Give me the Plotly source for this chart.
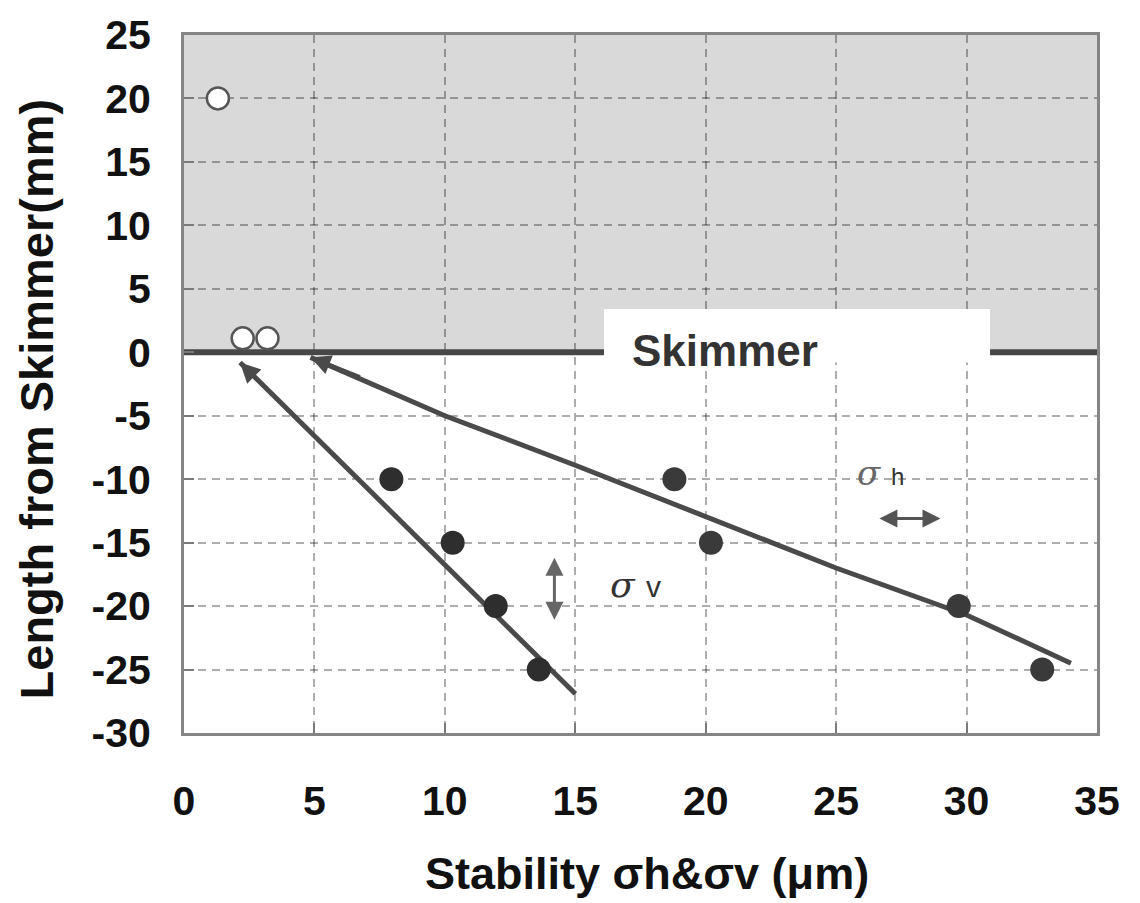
import plotly.graph_objects as go

# ---- data ----
open_x = [1.3, 2.25, 3.2]
open_y = [20, 1.1, 1.1]

sv_x = [7.95, 10.3, 11.95, 13.6]
sv_y = [-10, -15, -20, -25]
sh_x = [18.8, 20.2, 29.7, 32.9]
sh_y = [-10, -15, -20, -25]

sv_fit_x = [2.15, 15.0]
sv_fit_y = [-0.8, -26.9]
sh_fit_x = [4.85, 10, 15, 20, 25, 30, 34.0]
sh_fit_y = [-0.4, -5.0, -8.9, -12.9, -17.0, -20.7, -24.5]

x_ticks = [0, 5, 10, 15, 20, 25, 30, 35]
y_ticks = [25, 20, 15, 10, 5, 0, -5, -10, -15, -20, -25, -30]

FONT = "Liberation Sans, Arial, Helvetica, sans-serif"
DARK = "#4a4a4a"

fig = go.Figure()

# fitted lines
fig.add_trace(go.Scatter(x=sv_fit_x, y=sv_fit_y, mode="lines",
                         line=dict(color=DARK, width=5), showlegend=False))
fig.add_trace(go.Scatter(x=sh_fit_x, y=sh_fit_y, mode="lines",
                         line=dict(color=DARK, width=5), showlegend=False))

# filled points
fig.add_trace(go.Scatter(x=sv_x, y=sv_y, mode="markers",
                         marker=dict(color="#2e2e2e", size=24, line=dict(width=0)),
                         showlegend=False))
fig.add_trace(go.Scatter(x=sh_x, y=sh_y, mode="markers",
                         marker=dict(color="#3a3a3a", size=24, line=dict(width=0)),
                         showlegend=False))
# open points
fig.add_trace(go.Scatter(x=open_x, y=open_y, mode="markers",
                         marker=dict(color="white", size=22,
                                     line=dict(color="#555555", width=2.5)),
                         showlegend=False))

# shaded skimmer region, thick skimmer line and white label box
fig.add_shape(type="rect", xref="x", yref="y", x0=0, x1=35, y0=0, y1=25,
              fillcolor="#d9d9d9", line=dict(width=0), layer="below")
fig.add_shape(type="line", xref="x", yref="y", x0=0, x1=35, y0=0, y1=0,
              line=dict(color="#474747", width=6), layer="between")
fig.add_shape(type="rect", xref="x", yref="y", x0=16.1, x1=30.9, y0=-0.8, y1=3.4,
              fillcolor="white", line=dict(width=0), layer="between")

annotations = []
annotations.append(dict(x=20.75, y=0.15, xref="x", yref="y", text="<b>Skimmer</b>",
                        showarrow=False, font=dict(family=FONT, size=44, color="#333333")))

# arrowheads at line starts
annotations.append(dict(x=sv_fit_x[0], y=sv_fit_y[0], ax=3.1, ay=-2.75,
                        xref="x", yref="y", axref="x", ayref="y", text="",
                        showarrow=True, arrowhead=2, arrowsize=1.0, arrowwidth=4,
                        arrowcolor=DARK, standoff=0))
annotations.append(dict(x=sh_fit_x[0], y=sh_fit_y[0], ax=6.8, ay=-2.0,
                        xref="x", yref="y", axref="x", ayref="y", text="",
                        showarrow=True, arrowhead=2, arrowsize=1.0, arrowwidth=4,
                        arrowcolor=DARK, standoff=0))

# double-headed indicator arrows
annotations.append(dict(x=14.2, y=-16.2, ax=14.2, ay=-21.2,
                        xref="x", yref="y", axref="x", ayref="y", text="",
                        showarrow=True, arrowhead=2, startarrowhead=2,
                        arrowside="end+start", arrowsize=1.2, startarrowsize=1.2,
                        arrowwidth=3, arrowcolor="#666666", standoff=0, startstandoff=0))
annotations.append(dict(x=29.0, y=-13.1, ax=26.6, ay=-13.1,
                        xref="x", yref="y", axref="x", ayref="y", text="",
                        showarrow=True, arrowhead=2, startarrowhead=2,
                        arrowside="end+start", arrowsize=1.2, startarrowsize=1.2,
                        arrowwidth=3, arrowcolor="#555555", standoff=0, startstandoff=0))

# sigma labels
annotations.append(dict(x=17.3, y=-18.3, xref="x", yref="y", showarrow=False,
                        text="<i>σ</i> <span style='font-family:Liberation Sans;font-size:30px'>v</span>",
                        font=dict(family="DejaVu Serif, serif", size=36, color="#333333")))
annotations.append(dict(x=26.7, y=-9.5, xref="x", yref="y", showarrow=False,
                        text="<i>σ</i> <span style='font-size:24px;font-family:Liberation Sans;color:#333333'>h</span>",
                        font=dict(family="DejaVu Serif, serif", size=34, color="#666666")))

# axis titles
annotations.append(dict(x=0.507, y=-0.202, xref="paper", yref="paper", showarrow=False,
                        xanchor="center", yanchor="middle",
                        text="<b>Stability σh&σv (μm)</b>",
                        font=dict(family=FONT, size=45, color="#111111")))
annotations.append(dict(x=-0.162, y=0.478, xref="paper", yref="paper", showarrow=False,
                        xanchor="center", yanchor="middle",
                        text="<b>Length from Skimmer(mm)</b>", textangle=-90,
                        font=dict(family=FONT, size=47, color="#111111")))

grid_common = dict(showgrid=True, gridcolor="rgba(0,0,0,0.32)", griddash="8px,6px", gridwidth=2,
                   zeroline=False, showline=True, mirror=True, linecolor="#858585",
                   linewidth=3, ticks="inside", ticklen=10, tickwidth=2, tickcolor="#7a7a7a",
                   tickfont=dict(family=FONT, size=41, color="#111111", weight="bold"))

fig.update_xaxes(range=[0, 35], tickvals=x_ticks, ticktext=[str(v) for v in x_ticks],
                 ticklabelstandoff=30, **grid_common)
fig.update_yaxes(range=[-30, 25], tickvals=y_ticks, ticktext=[str(v) for v in y_ticks],
                 ticklabelstandoff=22, **grid_common)

fig.update_layout(width=1140, height=903,
                  margin=dict(l=184, r=43, t=26, b=170),
                  paper_bgcolor="white", plot_bgcolor="white",
                  showlegend=False, annotations=annotations)

fig.write_html("out.html")
